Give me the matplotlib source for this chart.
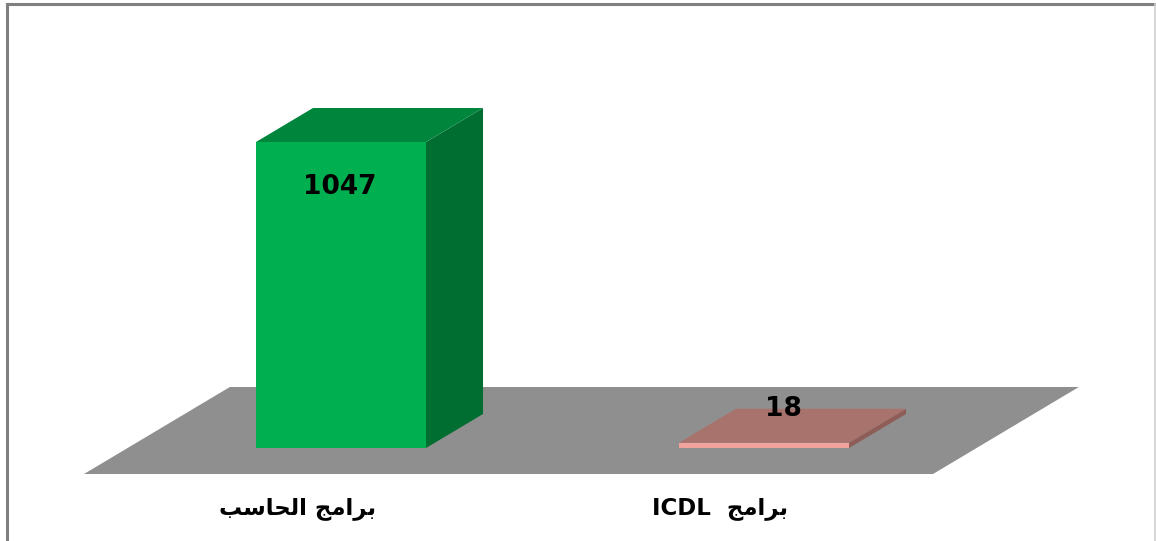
import matplotlib
matplotlib.use("Agg")
import matplotlib.pyplot as plt
from matplotlib.patches import Polygon
from matplotlib.lines import Line2D

# ---------------- data ----------------
categories = ["برامج الحاسب", "برامج ICDL"]
values = [1047, 18]
value_labels = ["1047", "18"]

# ---------------- styles ----------------
front_colors = ["#00B050", "#F0A29C"]
top_colors = ["#00853D", "#A8736D"]
side_colors = ["#006E30", "#8E5D57"]
floor_color = "#8F8F8F"

# ---------------- minimal Arabic shaping for display ----------------
FORMS = {  # iso, fin, ini, med  (None => right-joining only)
    "\u0628": ("\uFE8F", "\uFE90", "\uFE91", "\uFE92"),
    "\u0631": ("\uFEAD", "\uFEAE", None, None),
    "\u0627": ("\uFE8D", "\uFE8E", None, None),
    "\u0645": ("\uFEE1", "\uFEE2", "\uFEE3", "\uFEE4"),
    "\u062C": ("\uFE9D", "\uFE9E", "\uFE9F", "\uFEA0"),
    "\u0644": ("\uFEDD", "\uFEDE", "\uFEDF", "\uFEE0"),
    "\u062D": ("\uFEA1", "\uFEA2", "\uFEA3", "\uFEA4"),
    "\u0633": ("\uFEB1", "\uFEB2", "\uFEB3", "\uFEB4"),
}


def dual(c):
    return c in FORMS and FORMS[c][2] is not None


def shape_word(w):
    out = []
    for i, c in enumerate(w):
        if c not in FORMS:
            out.append(c)
            continue
        jp = i > 0 and dual(w[i - 1])
        jn = i < len(w) - 1 and w[i + 1] in FORMS and dual(c)
        iso, fin, ini, med = FORMS[c]
        if jp and jn:
            out.append(med)
        elif jp:
            out.append(fin)
        elif jn:
            out.append(ini)
        else:
            out.append(iso)
    return "".join(out)


def visual(s):
    words = s.split(" ")
    has_latin = any(not any(c in FORMS for c in w) for w in words)
    vis = []
    for w in reversed(words):
        if any(c in FORMS for c in w):
            vis.append(shape_word(w)[::-1])
        else:
            vis.append(w)
    return ("  " if has_latin else " ").join(vis)


# ---------------- layout ----------------
W, H, DPI = 1156, 541, 100
fig = plt.figure(figsize=(W / DPI, H / DPI), dpi=DPI)
ax = fig.add_axes([0, 0, 1, 1])
ax.set_axis_off()

px_per_cat = 423.0
cat0_px = 341.0
base_px = 448.0
val_per_px = 1047 / 306.0
ax.set_xlim(-cat0_px / px_per_cat, (W - cat0_px) / px_per_cat)
ax.set_ylim((base_px - H) * val_per_px, base_px * val_per_px)

bar_w = 0.402
ddx = 57 / px_per_cat        # depth offset in x units
ddy = 34 * val_per_px        # depth offset in value units
floor_front, floor_back = -0.765, 1.794
floor_left, floor_right = -0.5045, 1.5026

# floor
fl = [(floor_left + floor_front * ddx, floor_front * ddy),
      (floor_right + floor_front * ddx, floor_front * ddy),
      (floor_right + floor_back * ddx, floor_back * ddy),
      (floor_left + floor_back * ddx, floor_back * ddy)]
ax.add_patch(Polygon(fl, closed=True, facecolor=floor_color, edgecolor="none", zorder=1))

for i, v in enumerate(values):
    x0 = i - bar_w / 2
    x1 = i + bar_w / 2
    side = [(x1, 0), (x1 + ddx, ddy), (x1 + ddx, v + ddy), (x1, v)]
    top = [(x0, v), (x1, v), (x1 + ddx, v + ddy), (x0 + ddx, v + ddy)]
    front = [(x0, 0), (x1, 0), (x1, v), (x0, v)]
    ax.add_patch(Polygon(side, closed=True, facecolor=side_colors[i], edgecolor="none", zorder=2))
    ax.add_patch(Polygon(top, closed=True, facecolor=top_colors[i], edgecolor="none", zorder=2))
    ax.add_patch(Polygon(front, closed=True, facecolor=front_colors[i], edgecolor="none", zorder=3))

# value labels
ax.text(0 - 0.002, values[0] - 45 * val_per_px, value_labels[0], ha="center", va="center",
        fontsize=19, fontweight="bold", family=["DejaVu Sans"], color="black", zorder=5)
ax.text(1 + ddx / 3, values[1] + ddy, value_labels[1], ha="center", va="center",
        fontsize=19, fontweight="bold", family=["DejaVu Sans"], color="black", zorder=5)

# category labels
label_y = (base_px - 508) * val_per_px
for i, c in enumerate(categories):
    ax.text(i + floor_front * ddx, label_y, visual(c), ha="center", va="center",
            fontsize=16.5, fontweight="bold", family=["DejaVu Sans"], color="black", zorder=5)

# chart border
fig.add_artist(Line2D([7 / W, 1155 / W], [1 - 4 / H, 1 - 4 / H], transform=fig.transFigure,
                      color="#808080", lw=2.2))
fig.add_artist(Line2D([7 / W, 7 / W], [0, 1 - 4 / H], transform=fig.transFigure,
                      color="#808080", lw=2.2))
fig.add_artist(Line2D([1155 / W, 1155 / W], [0, 1 - 4 / H], transform=fig.transFigure,
                      color="#D0D0D0", lw=1.2))

fig.savefig("out.png", dpi=DPI)
